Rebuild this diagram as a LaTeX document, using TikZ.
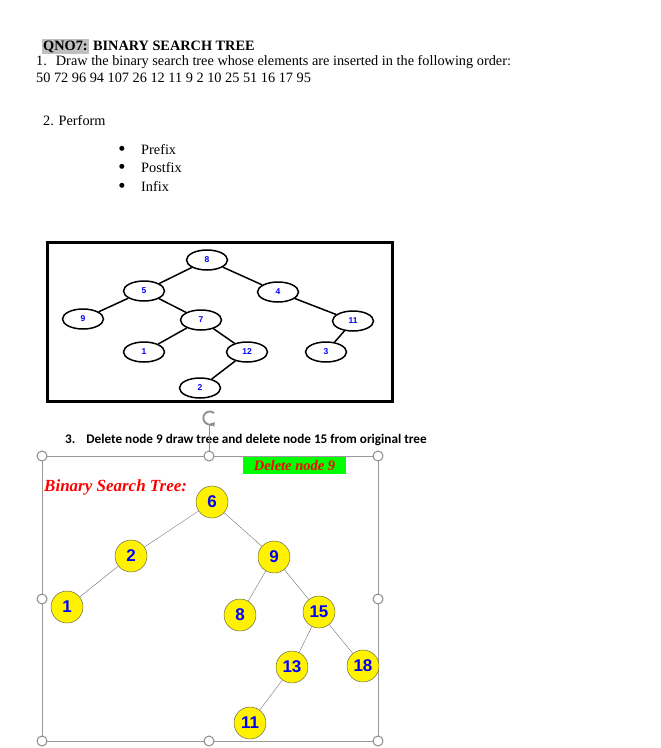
\documentclass[tikz,border=0pt]{standalone}
\usepackage{fontspec}
\setmainfont{Liberation Serif}
\newfontfamily\arialfont{Liberation Sans}
\newfontfamily\calibrifont{Carlito}
\newfontfamily\symfont{DejaVu Sans}
\usetikzlibrary{arrows.meta, positioning, shapes.geometric, shadows}

\begin{document}
\begin{tikzpicture}[
    x=1pt, y=-1pt,
    txt/.style={anchor=base west, inner sep=0pt, font=\fontsize{14.3}{16}\selectfont},
    dot/.style={inner sep=0pt, font=\symfont\fontsize{6.5}{7}\selectfont},
    frame/.style={draw=black, line width=3pt, fill=white, drop shadow={opacity=0.35, shadow xshift=2pt, shadow yshift=-2pt}},
    oval/.style={ellipse, draw, line width=1.5pt, fill=white, minimum width=41pt, minimum height=20pt, inner sep=0pt, text=blue, font=\arialfont\bfseries\fontsize{8.5}{9}\selectfont},
    link/.style={line width=1.5pt},
    ball/.style={circle, draw=black!70, fill=yellow, minimum size=32pt, inner sep=0pt, text=blue, font=\arialfont\bfseries\fontsize{17}{18}\selectfont},
    edge/.style={draw=black!55, thin},
    handle/.style={circle, draw=black!45, fill=white, line width=1pt, minimum size=10pt, inner sep=0pt}
]
\useasboundingbox (0,0) rectangle (661,748);

\node[txt, fill=black!25, inner xsep=1pt, text height=11pt, text depth=4pt] (qno) at (42,50) {\bfseries QNO7:};
\node[txt, xshift=4pt] (title) at (qno.base east) {\bfseries BINARY SEARCH TREE};
\node[txt] (q1) at (36,65) {1.\hspace{9pt}Draw the binary search tree whose elements are inserted in the following order:};
\node[txt] (order) at (36,82) {50 72 96 94 107 26 12 11 9 2 10 25 51 16 17 95};
\node[txt] (q2) at (43,125) {2. Perform};
\node[dot] (b1) at (122,149) {●};
\node[txt] (pre) at (141,154) {Prefix};
\node[dot] (b2) at (122,167) {●};
\node[txt] (post) at (141,172) {Postfix};
\node[dot] (b3) at (122,186) {●};
\node[txt] (in) at (141,191) {Infix};

\draw[frame] (47,242) rectangle (392,401);
\node[oval] (t8) at (207,260) {8};
\node[oval] (t5) at (144,291) {5};
\node[oval] (t4) at (278,292) {4};
\node[oval] (t9) at (83,319) {9};
\node[oval] (t7) at (201,320) {7};
\node[oval] (t11) at (353,321) {11};
\node[oval] (t1) at (144,352) {1};
\node[oval] (t12) at (247,352) {12};
\node[oval] (t3) at (326,352) {3};
\node[oval] (t2) at (200,388) {2};
\draw[link] (t8) -- (t5);
\draw[link] (t8) -- (t4);
\draw[link] (t5) -- (t9);
\draw[link] (t5) -- (t7);
\draw[link] (t7) -- (t1);
\draw[link] (t7) -- (t12);
\draw[link] (t12) -- (t2);
\draw[link] (t4) -- (t11);
\draw[link] (t11) -- (t3);

\node[txt, font=\calibrifont\bfseries\fontsize{13.2}{15}\selectfont] (q3) at (65,443) {3.\hspace{11pt}Delete node 9 draw tree and delete node 15 from original tree};

\draw[black!40] (42,456) rectangle (378,741);
\draw[black!45, line width=1pt] (209,426) -- (209,456);
\draw[black!45, line width=1.8pt, -{Triangle[length=4pt, width=5pt]}] (214,413) arc[start angle=-50, end angle=-320, radius=6.5];
\foreach \hx/\hy in {42/456, 209/456, 378/456, 42/599, 378/599, 42/741, 209/741, 378/741}
  \node[handle] at (\hx,\hy) {};

\node[fill=green, text=red, inner sep=0pt, minimum width=103pt, minimum height=17pt, font=\bfseries\itshape\fontsize{14.5}{16}\selectfont] (del) at (294.5,465.5) {Delete node 9};
\node[txt, text=red, font=\bfseries\itshape\fontsize{17}{19}\selectfont] (bst) at (44,491) {Binary Search Tree:};

\node[ball] (n6) at (212,502) {6};
\node[ball] (n2) at (131,556) {2};
\node[ball] (n9) at (274,557) {9};
\node[ball] (n1) at (67,607) {1};
\node[ball] (n8) at (240,615) {8};
\node[ball] (n15) at (319,612) {15};
\node[ball] (n13) at (292,667) {13};
\node[ball] (n18) at (363,666) {18};
\node[ball] (n11) at (250,723) {11};
\draw[edge] (n6) -- (n2);
\draw[edge] (n6) -- (n9);
\draw[edge] (n2) -- (n1);
\draw[edge] (n9) -- (n8);
\draw[edge] (n9) -- (n15);
\draw[edge] (n15) -- (n13);
\draw[edge] (n15) -- (n18);
\draw[edge] (n13) -- (n11);
\end{tikzpicture}
\end{document}
